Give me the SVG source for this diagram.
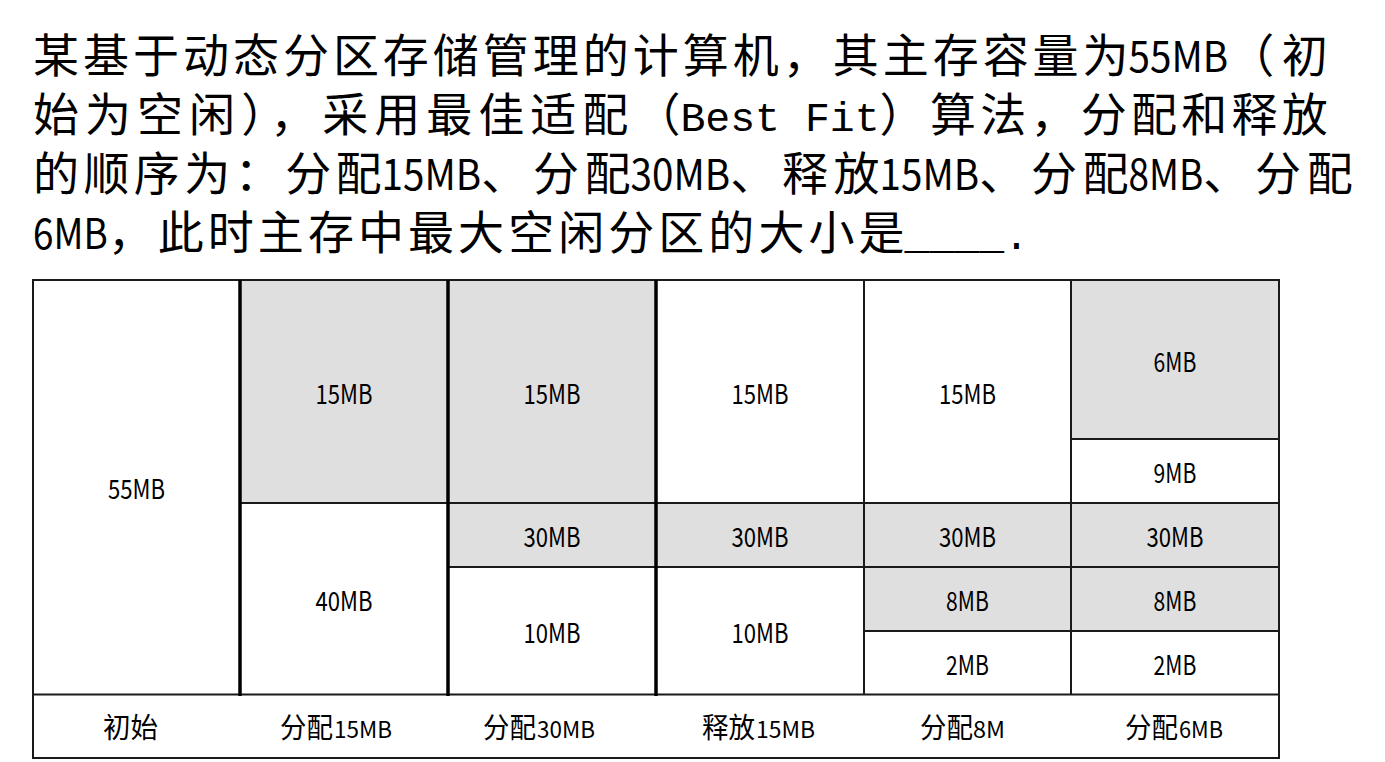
<svg xmlns="http://www.w3.org/2000/svg" width="1385" height="762" viewBox="0 0 1385 762">
<style>
text{font-family:"Noto Sans CJK SC","Noto Sans",sans-serif;fill:#000;}
.t{font-size:46px;}
.tl{font-size:42px;}
.mono{font-family:"Liberation Mono","DejaVu Sans Mono",monospace;font-size:41.5px;}
.cl{font-size:27px;}
.bc{font-size:28px;}
.bl{font-size:23px;}
.g{fill:#dfdfdf;}
.w{fill:#ffffff;}
.thin{stroke:#1a1a1a;stroke-width:2;fill:none;}
.thick{stroke:#000;stroke-width:3.5;fill:none;}
</style>
<rect width="1385" height="762" fill="#fff"/>
<g id="title">
<text y="72"><tspan class="t" x="33" textLength="1095.6" lengthAdjust="spacing">某基于动态分区存储管理的计算机，其主存容量为</tspan><tspan class="tl" x="1128.6" textLength="99.6" lengthAdjust="spacingAndGlyphs">55MB</tspan><tspan class="t" x="1228.2" textLength="99.6" lengthAdjust="spacing">（初</tspan></text>
<text y="131"><tspan class="t" x="33" textLength="647.4" lengthAdjust="spacing">始为空闲），采用最佳适配（</tspan><tspan class="mono" x="680.4">Best Fit</tspan><tspan class="t" x="879.6" textLength="448.2" lengthAdjust="spacing">）算法，分配和释放</tspan></text>
<text y="190"><tspan class="t" x="33" textLength="348.6" lengthAdjust="spacing">的顺序为：分配</tspan><tspan class="tl" x="381.6" textLength="99.6" lengthAdjust="spacingAndGlyphs">15MB</tspan><tspan class="t" x="481.2" textLength="149.4" lengthAdjust="spacing">、分配</tspan><tspan class="tl" x="630.6" textLength="99.6" lengthAdjust="spacingAndGlyphs">30MB</tspan><tspan class="t" x="730.2" textLength="149.4" lengthAdjust="spacing">、释放</tspan><tspan class="tl" x="879.6" textLength="99.6" lengthAdjust="spacingAndGlyphs">15MB</tspan><tspan class="t" x="979.2" textLength="149.4" lengthAdjust="spacing">、分配</tspan><tspan class="tl" x="1128.6" textLength="74.7" lengthAdjust="spacingAndGlyphs">8MB</tspan><tspan class="t" x="1203.3" textLength="149.4" lengthAdjust="spacing">、分配</tspan></text>
<text y="249"><tspan class="tl" x="33" textLength="74.7" lengthAdjust="spacingAndGlyphs">6MB</tspan><tspan class="t" x="107.7" textLength="796.8" lengthAdjust="spacing">，此时主存中最大空闲分区的大小是</tspan><tspan class="mono" x="904.5">____.</tspan></text>
</g>
<g id="cells">
<g id="col0"><rect class="w" x="33" y="280" width="207" height="414"/><text class="cl" x="108" y="499" textLength="57" lengthAdjust="spacingAndGlyphs">55MB</text></g>
<g id="col1">
<rect class="g" x="240" y="280" width="208" height="223"/><text class="cl" x="315.5" y="403.5" textLength="57" lengthAdjust="spacingAndGlyphs">15MB</text>
<rect class="w" x="240" y="503" width="208" height="191"/><text class="cl" x="315.5" y="610.5" textLength="57" lengthAdjust="spacingAndGlyphs">40MB</text>
</g>
<g id="col2">
<rect class="g" x="448" y="280" width="208" height="223"/><text class="cl" x="523.5" y="403.5" textLength="57" lengthAdjust="spacingAndGlyphs">15MB</text>
<rect class="g" x="448" y="503" width="208" height="64"/><text class="cl" x="523.5" y="547" textLength="57" lengthAdjust="spacingAndGlyphs">30MB</text>
<rect class="w" x="448" y="567" width="208" height="127"/><text class="cl" x="523.5" y="642.5" textLength="57" lengthAdjust="spacingAndGlyphs">10MB</text>
</g>
<g id="col3">
<rect class="w" x="656" y="280" width="208" height="223"/><text class="cl" x="731.5" y="403.5" textLength="57" lengthAdjust="spacingAndGlyphs">15MB</text>
<rect class="g" x="656" y="503" width="208" height="64"/><text class="cl" x="731.5" y="547" textLength="57" lengthAdjust="spacingAndGlyphs">30MB</text>
<rect class="w" x="656" y="567" width="208" height="127"/><text class="cl" x="731.5" y="642.5" textLength="57" lengthAdjust="spacingAndGlyphs">10MB</text>
</g>
<g id="col4">
<rect class="w" x="864" y="280" width="207" height="223"/><text class="cl" x="939" y="403.5" textLength="57" lengthAdjust="spacingAndGlyphs">15MB</text>
<rect class="g" x="864" y="503" width="207" height="64"/><text class="cl" x="939" y="547" textLength="57" lengthAdjust="spacingAndGlyphs">30MB</text>
<rect class="g" x="864" y="567" width="207" height="64"/><text class="cl" x="946.1" y="611" textLength="42.75" lengthAdjust="spacingAndGlyphs">8MB</text>
<rect class="w" x="864" y="631" width="207" height="63"/><text class="cl" x="946.1" y="674.5" textLength="42.75" lengthAdjust="spacingAndGlyphs">2MB</text>
</g>
<g id="col5">
<rect class="g" x="1071" y="280" width="208" height="159"/><text class="cl" x="1153.6" y="371.5" textLength="42.75" lengthAdjust="spacingAndGlyphs">6MB</text>
<rect class="w" x="1071" y="439" width="208" height="64"/><text class="cl" x="1153.6" y="483" textLength="42.75" lengthAdjust="spacingAndGlyphs">9MB</text>
<rect class="g" x="1071" y="503" width="208" height="64"/><text class="cl" x="1146.5" y="547" textLength="57" lengthAdjust="spacingAndGlyphs">30MB</text>
<rect class="g" x="1071" y="567" width="208" height="64"/><text class="cl" x="1153.6" y="611" textLength="42.75" lengthAdjust="spacingAndGlyphs">8MB</text>
<rect class="w" x="1071" y="631" width="208" height="63"/><text class="cl" x="1153.6" y="674.5" textLength="42.75" lengthAdjust="spacingAndGlyphs">2MB</text>
</g>
</g>
<g id="labels">
<text y="738"><tspan class="bc" x="103" textLength="55" lengthAdjust="spacingAndGlyphs">初始</tspan></text>
<text y="738"><tspan class="bc" x="280" textLength="53" lengthAdjust="spacingAndGlyphs">分配</tspan><tspan class="bl" x="334" textLength="58" lengthAdjust="spacingAndGlyphs">15MB</tspan></text>
<text y="738"><tspan class="bc" x="483" textLength="53" lengthAdjust="spacingAndGlyphs">分配</tspan><tspan class="bl" x="537" textLength="58" lengthAdjust="spacingAndGlyphs">30MB</tspan></text>
<text y="738"><tspan class="bc" x="702" textLength="53" lengthAdjust="spacingAndGlyphs">释放</tspan><tspan class="bl" x="756" textLength="59" lengthAdjust="spacingAndGlyphs">15MB</tspan></text>
<text y="738"><tspan class="bc" x="920" textLength="53" lengthAdjust="spacingAndGlyphs">分配</tspan><tspan class="bl" x="973" textLength="32" lengthAdjust="spacingAndGlyphs">8M</tspan></text>
<text y="738"><tspan class="bc" x="1125" textLength="53" lengthAdjust="spacingAndGlyphs">分配</tspan><tspan class="bl" x="1179" textLength="44" lengthAdjust="spacingAndGlyphs">6MB</tspan></text>
</g>
<g id="grid">
<rect class="thin" x="33" y="280" width="1246" height="478"/>
<line class="thin" x1="33" y1="694.5" x2="1279" y2="694.5"/>
<line class="thin" x1="240" y1="503" x2="1279" y2="503"/>
<line class="thin" x1="448" y1="567" x2="1279" y2="567"/>
<line class="thin" x1="864" y1="631" x2="1279" y2="631"/>
<line class="thin" x1="1071" y1="439" x2="1279" y2="439"/>
<line class="thin" x1="864" y1="280" x2="864" y2="694"/>
<line class="thin" x1="1071" y1="280" x2="1071" y2="694"/>
<line class="thick" x1="240" y1="280" x2="240" y2="696"/>
<line class="thick" x1="448" y1="280" x2="448" y2="696"/>
<line class="thick" x1="656" y1="280" x2="656" y2="696"/>
</g>
</svg>
